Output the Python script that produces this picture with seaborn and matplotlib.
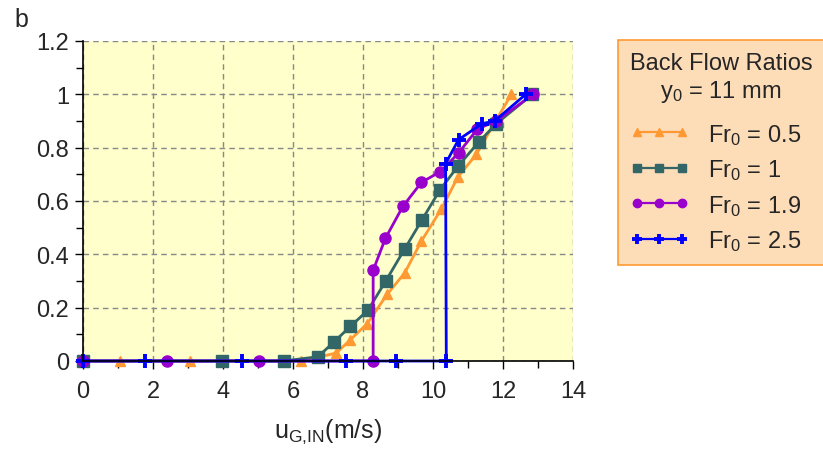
import numpy as np
import pandas as pd
import matplotlib
matplotlib.use("Agg")
import matplotlib.pyplot as plt
import seaborn as sns
from matplotlib.ticker import MultipleLocator

sns.set_style("white")
plt.rcParams['font.family'] = ['Liberation Sans', 'DejaVu Sans']
plt.rcParams['mathtext.default'] = 'regular'

# Data
x_05 = [0, 1.05, 3.05, 6.24, 7.24, 7.64, 8.12, 8.69, 9.19, 9.67, 10.24, 10.71, 11.24, 11.79, 12.24]
y_05 = [0, 0, 0, 0, 0.03, 0.08, 0.14, 0.25, 0.33, 0.45, 0.57, 0.69, 0.775, 0.90, 1.0]

x_1 = [0, 3.98, 5.73, 6.71, 7.16, 7.64, 8.14, 8.65, 9.19, 9.69, 10.19, 10.71, 11.30, 11.81, 12.84]
y_1 = [0, 0, 0, 0.016, 0.07, 0.13, 0.19, 0.30, 0.42, 0.53, 0.64, 0.73, 0.82, 0.89, 1.0]

x_19 = [0, 2.41, 5.03, 8.29, 8.29, 8.64, 9.14, 9.67, 10.21, 10.73, 11.27, 11.81, 12.86]
y_19 = [0, 0, 0, 0, 0.34, 0.46, 0.58, 0.67, 0.71, 0.78, 0.87, 0.90, 1.0]

x_25 = [0, 1.78, 4.55, 7.50, 8.95, 10.38, 10.36, 10.73, 11.40, 11.76, 12.65]
y_25 = [0, 0, 0, 0, 0, 0, 0.74, 0.83, 0.89, 0.90, 1.0]

labels = ['Fr$_0$ = 0.5', 'Fr$_0$ = 1', 'Fr$_0$ = 1.9', 'Fr$_0$ = 2.5']
series = [(x_05, y_05), (x_1, y_1), (x_19, y_19), (x_25, y_25)]
colors = ['#FF9933', '#336666', '#9900CC', '#0000FF']
markers = ['^', 's', 'o', '+']
msizes = [7.5, 8, 8, 10]
mews = [1, 1, 1, 2.8]

fig = plt.figure(figsize=(8.23, 4.52), dpi=100)
ax = fig.add_axes([83/823, 1-362/452, 490/823, 320/452])
ax.set_facecolor('#FFFFCC')

for (xs, ys), lab, c, m, ms, mew in zip(series, labels, colors, markers, msizes, mews):
    df = pd.DataFrame({'x': xs, 'y': ys})
    sns.lineplot(data=df, x='x', y='y', ax=ax, sort=False, estimator=None,
                 color=c, marker=m, markersize=ms, markeredgecolor=c,
                 markeredgewidth=mew, linewidth=2, label=lab, clip_on=False)

ax.set_xlim(0, 14)
ax.set_ylim(0, 1.2)
ax.xaxis.set_major_locator(MultipleLocator(2))
ax.xaxis.set_minor_locator(MultipleLocator(1))
ax.yaxis.set_minor_locator(MultipleLocator(0.1))
ax.set_yticks([0, 0.2, 0.4, 0.6, 0.8, 1.0, 1.2])
ax.set_yticklabels(['0', '0.2', '0.4', '0.6', '0.8', '1', '1.2'])
ax.tick_params(axis='both', which='major', direction='out', length=6, width=1,
               labelsize=17, bottom=True, left=True, color='black', pad=4)
ax.tick_params(axis='x', which='major', pad=8)
ax.tick_params(axis='both', which='minor', direction='out', length=5, width=1,
               bottom=True, left=True, color='black')
ax.grid(True, which='major', linestyle=(0, (4, 3)), color='#888888', linewidth=1)
for s in ['top', 'right']:
    ax.spines[s].set_visible(False)
for s in ['left', 'bottom']:
    ax.spines[s].set_color('black')
    ax.spines[s].set_linewidth(1.2)
ax.set_xlabel('u$_{G{,}IN}$(m/s)', fontsize=18, labelpad=10)
ax.set_ylabel('')

fig.text(14/823, 1-20/452, 'b', fontsize=18, ha='left', va='center')

ax.get_legend().remove()
handles, labs = ax.get_legend_handles_labels()
leg = fig.legend(handles, labs, loc='upper left', bbox_to_anchor=(618/823, 1-41/452),
                 borderaxespad=0, alignment='left',
                 title='Back Flow Ratios\ny$_0$ = 11 mm', fontsize=17, title_fontsize=17,
                 frameon=True, fancybox=False, facecolor='#FDDCB8', edgecolor='#FF9933',
                 framealpha=1, numpoints=3, handlelength=2.5, handletextpad=0.8,
                 borderpad=0.5, labelspacing=0.45, markerscale=0.75)
leg.get_frame().set_linewidth(1.2)
leg.get_title().set_multialignment('center')
try:
    leg._legend_box.sep = 13
except Exception:
    pass
for ln in leg.get_lines():
    ln.set_linewidth(1.6)

fig.savefig('out.png', dpi=100, facecolor='white')
